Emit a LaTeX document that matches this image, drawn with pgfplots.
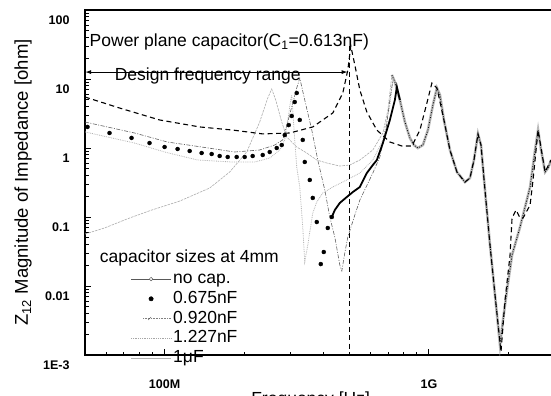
\documentclass[border=0pt]{standalone}
\usepackage{fontspec}
\setmainfont{Liberation Sans}
\usepackage{pgfplots}
\pgfplotsset{compat=1.18}
\usetikzlibrary{arrows.meta}
\newcommand{\bigf}{\fontsize{17.5bp}{19bp}\selectfont}
\newcommand{\tickf}{\fontsize{12.5bp}{14bp}\selectfont\bfseries}
\begin{document}
\begin{tikzpicture}
\begin{axis}[
  xmode=log, ymode=log,
  scale only axis, width=470bp, height=345bp,
  xmin=5e7, xmax=3e9, ymin=1e-3, ymax=100,
  axis line style={line width=1.3bp},
  tick align=inside, xtick pos=left, ytick pos=left,
  major tick length=6bp, minor tick length=3.5bp,
  every tick/.style={black, line width=0.9bp},
  xtick={1e8,1e9}, xticklabels={100M,1G},
  minor xtick={6e7,7e7,8e7,9e7,2e8,3e8,4e8,5e8,6e8,7e8,8e8,9e8,2e9,3e9},
  ytick={1e-3,1e-2,1e-1,1,10,100}, yticklabels={1E-3,0.01,0.1,1,10,100},
  minor ytick={2e-3,3e-3,4e-3,5e-3,6e-3,7e-3,8e-3,9e-3,2e-2,3e-2,4e-2,5e-2,6e-2,7e-2,8e-2,9e-2,0.2,0.3,0.4,0.5,0.6,0.7,0.8,0.9,2,3,4,5,6,7,8,9,20,30,40,50,60,70,80,90},
  xticklabel style={font=\tickf, yshift=-21bp},
  yticklabel style={font=\tickf, yshift=-10bp, xshift=-12bp},
  xlabel={Frequency [Hz]},
  xlabel style={font=\bigf, at={(rel axis cs:0.48,0)}, anchor=north, inner sep=0pt, yshift=-37bp},
  legend cell align=left,
  legend style={at={(axis cs:7.43e7,0.01764)}, anchor=north west, draw=none, fill=none, inner sep=0pt, font=\bigf, row sep=0pt,
    nodes={inner sep=1.75bp, text height=12.75bp, text depth=3.5bp}},
]
\coordinate (yl) at (rel axis cs:0,0.5);
\coordinate (sw) at (rel axis cs:0,0);

% legend
\addlegendimage{legend image code/.code={\draw[gray!70!black, line width=0.5bp] (0bp,0bp) -- (40bp,0bp); \draw[gray!70!black, fill=white, line width=0.5bp] (20bp,0bp) circle (1.8bp);}}
\addlegendentry{no cap.}
\addlegendimage{legend image code/.code={\fill[black] (20bp,0bp) circle (2.2bp);}}
\addlegendentry{0.675nF}
\addlegendimage{legend image code/.code={\draw[gray, densely dotted, line width=0.6bp] (12bp,0bp) -- (40bp,0bp); \draw[gray!60!black] (17bp,-1.5bp) -- (20bp,1.5bp);}}
\addlegendentry{0.920nF}
\addlegendimage{legend image code/.code={\draw[gray!70, densely dotted, line width=0.8bp] (0bp,0bp) -- (40bp,0bp);}}
\addlegendentry{1.227nF}
\addlegendimage{legend image code/.code={\draw[gray!60, line width=0.6bp] (0bp,0bp) -- (40bp,0bp);}}
\addlegendentry{1μF}

% 1 uF
\addplot[forget plot, gray!65, line width=0.6bp, dash pattern=on 2.5bp off 1bp] coordinates {
(5.0e7,0.0567) (5.926e7,0.0693) (7.37e7,0.0967) (8.93e7,0.126) (1.140e8,0.170) (1.481e8,0.263) (1.763e8,0.449) (2.045e8,0.875) (2.290e8,2.38) (2.456e8,5.30) (2.543e8,7.16) (2.633e8,4.96) (2.775e8,2.38) (2.898e8,1.44) (3.162e8,1.034) (3.451e8,0.846) (3.765e8,0.670) (4.108e8,0.606) (4.602e8,0.548) (5.021e8,0.567) (5.479e8,0.670) (6.136e8,0.936) (6.697e8,1.65) (6.995e8,3.55) (7.243e8,11.43)};

% 1.227 nF
\addplot[forget plot, gray!60, line width=0.8bp, densely dotted] coordinates {
(5.0e7,1.71) (7.70e7,1.18) (1e8,0.875) (1.334e8,0.670) (1.794e8,0.627) (2.193e8,0.627) (2.499e8,0.716) (2.726e8,0.936) (2.848e8,1.31) (2.924e8,2.55) (3.001e8,4.96) (3.027e8,5.87) (3.107e8,1.31) (3.162e8,0.530) (3.246e8,0.272) (3.332e8,0.0716) (3.391e8,0.0223) (3.481e8,0.0393) (3.636e8,0.114) (3.765e8,0.165) (3.967e8,0.223) (4.329e8,0.272) (4.891e8,0.344) (5.479e8,0.434) (6.136e8,0.670) (6.697e8,1.31) (7.118e8,4.20) (7.307e8,9.67)};

% 0.920 nF
\addplot[forget plot, gray!75!black, line width=0.6bp, dash pattern=on 4bp off 1.5bp on 1bp off 1.5bp] coordinates {
(5.0e7,2.38) (7.70e7,1.65) (1.026e8,1.22) (1.381e8,1.034) (1.842e8,0.875) (2.290e8,0.936) (2.610e8,1.105) (2.799e8,1.31) (2.924e8,2.38) (3.054e8,4.49) (3.162e8,7.41) (3.246e8,10.34) (3.391e8,4.96) (3.605e8,1.82) (3.798e8,0.670) (4.037e8,0.246) (4.217e8,0.100) (4.405e8,0.0513) (4.602e8,0.0201) (4.683e8,0.0165) (4.806e8,0.0301) (4.934e8,0.0513) (5.245e8,0.107) (5.479e8,0.176) (6.136e8,0.434) (6.523e8,0.741) (6.874e8,1.82) (7.118e8,4.96) (7.307e8,9.67)};

% high-frequency common band
\addplot[forget plot, gray!55, line width=2.6bp] coordinates {
(7.243e8,11.43) (7.435e8,9.05) (7.768e8,4.96) (8.114e8,2.38) (8.472e8,1.40) (8.774e8,1.105) (9.085e8,1.0) (9.490e8,1.105) (9.913e8,1.82) (1.0356e9,4.20) (1.0722e9,7.41) (1.1007e9,5.87) (1.1398e9,2.55) (1.2009e9,0.936) (1.2766e9,0.449) (1.3689e9,0.321) (1.4298e9,0.367) (1.4806e9,0.670) (1.5332e9,1.60) (1.5740e9,1.105) (1.6298e9,0.246) (1.7025e9,0.0393) (1.7783e9,0.00741) (1.8575e9,0.00140) (1.907e9,0.00321) (1.975e9,0.00875) (2.063e9,0.0281) (2.212e9,0.0716) (2.414e9,0.272) (2.521e9,0.936) (2.588e9,1.82) (2.657e9,0.936) (2.751e9,0.449) (2.824e9,0.513) (2.898e9,0.670)};
\addplot[forget plot, black, line width=0.7bp, dash pattern=on 1bp off 1.5bp] coordinates {
(7.243e8,11.43) (7.435e8,9.05) (7.768e8,4.96) (8.114e8,2.38) (8.472e8,1.40) (8.774e8,1.105) (9.085e8,1.0) (9.490e8,1.105) (9.913e8,1.82) (1.0356e9,4.20) (1.0722e9,7.41) (1.1007e9,5.87) (1.1398e9,2.55) (1.2009e9,0.936) (1.2766e9,0.449) (1.3689e9,0.321) (1.4298e9,0.367) (1.4806e9,0.670) (1.5332e9,1.60) (1.5740e9,1.105) (1.6298e9,0.246) (1.7025e9,0.0393) (1.7783e9,0.00741) (1.8575e9,0.00140) (1.907e9,0.00321) (1.975e9,0.00875) (2.063e9,0.0281) (2.212e9,0.0716) (2.414e9,0.272) (2.521e9,0.936) (2.588e9,1.82) (2.657e9,0.936) (2.751e9,0.449) (2.824e9,0.513) (2.898e9,0.670)};

% 0.675 nF dots
\addplot[forget plot, only marks, mark=*, mark size=2bp, black] coordinates {
(5.109e7,2.02) (6.19e7,1.65) (7.50e7,1.40) (8.77e7,1.18) (1e8,1.034) (1.120e8,0.967) (1.244e8,0.905) (1.381e8,0.846) (1.507e8,0.818) (1.616e8,0.766) (1.733e8,0.741) (1.874e8,0.741) (2.009e8,0.741) (2.154e8,0.766) (2.351e8,0.792) (2.499e8,0.875) (2.656e8,1.0) (2.775e8,1.105) (2.848e8,1.54) (2.949e8,2.15) (3.027e8,2.91) (3.107e8,4.64) (3.162e8,6.27) (3.246e8,2.55) (3.332e8,1.31) (3.391e8,0.627) (3.542e8,0.344) (3.636e8,0.189) (3.765e8,0.0846) (3.899e8,0.0208) (4.002e8,0.0311) (4.144e8,0.0693) (4.292e8,0.100)};
\addplot[forget plot, black, line width=1.8bp] coordinates {
(4.292e8,0.100) (4.405e8,0.126) (4.602e8,0.160) (4.891e8,0.195) (5.154e8,0.230) (5.479e8,0.272) (5.823e8,0.434) (6.136e8,0.567) (6.354e8,0.670) (6.697e8,1.18) (7.118e8,2.55) (7.435e8,4.96) (7.567e8,7.66) (7.768e8,4.96)};

% no cap (dashed)
\addplot[forget plot, black, line width=1.1bp, dash pattern=on 5bp off 3.5bp] coordinates {
(5.0e7,5.48) (6.753e7,3.80) (9.57e7,2.55) (1.357e8,2.02) (1.810e8,1.82) (2.351e8,1.60) (2.975e8,1.65) (3.636e8,2.02) (4.329e8,3.22) (4.723e8,6.27) (4.934e8,13.5) (5.064e8,30.1) (5.245e8,15.95) (5.479e8,6.93) (5.823e8,3.33) (6.354e8,1.82) (7.118e8,1.22) (7.904e8,1.069) (8.622e8,1.069) (9.245e8,1.82) (9.827e8,4.49) (1.0266e9,8.75) (1.0722e9,7.41) (1.1398e9,2.55) (1.2009e9,0.936) (1.2766e9,0.449) (1.3689e9,0.321) (1.4298e9,0.367) (1.4806e9,0.670) (1.5332e9,1.60) (1.5740e9,1.105) (1.6298e9,0.246) (1.7025e9,0.0393) (1.7783e9,0.00741) (1.874e9,0.00111) (1.941e9,0.00627) (2.027e9,0.0281) (2.063e9,0.0967) (2.136e9,0.126) (2.212e9,0.0967) (2.271e9,0.0967) (2.414e9,0.149) (2.477e9,0.344) (2.588e9,1.82) (2.751e9,0.449) (2.898e9,0.670)};

% vertical marker at 500 MHz
\addplot[forget plot, black, line width=1.1bp, dash pattern=on 5bp off 3.5bp] coordinates {(5.02e8,30) (5.02e8,1e-3)};

% design frequency range arrow
\draw[{Latex[length=6bp,width=4bp]}-{Latex[length=6bp,width=4bp]}, line width=1bp] (axis cs:5.0e7,12.6) -- (axis cs:4.93e8,12.6);

\node[anchor=base west, inner sep=0pt, font=\bigf] at (axis cs:5.2e7,29.1) {Power plane capacitor(C\textsubscript{1}=0.613nF)};
\node[anchor=base west, inner sep=0pt, font=\bigf] at (axis cs:6.47e7,9.67) {Design frequency range};
\node[anchor=base west, inner sep=0pt, font=\bigf] at (axis cs:5.68e7,0.0216) {capacitor sizes at 4mm};
\end{axis}
\node[rotate=90, anchor=south, inner sep=0pt, font=\fontsize{18.5bp}{20bp}\selectfont] at ([xshift=-53bp]yl) {Z\textsubscript{12} Magnitude of Impedance [ohm]};
\pgfresetboundingbox
\useasboundingbox ([shift={(-85bp,-41bp)}]sw) rectangle ([shift={(466bp,355bp)}]sw);
\end{tikzpicture}
\end{document}
